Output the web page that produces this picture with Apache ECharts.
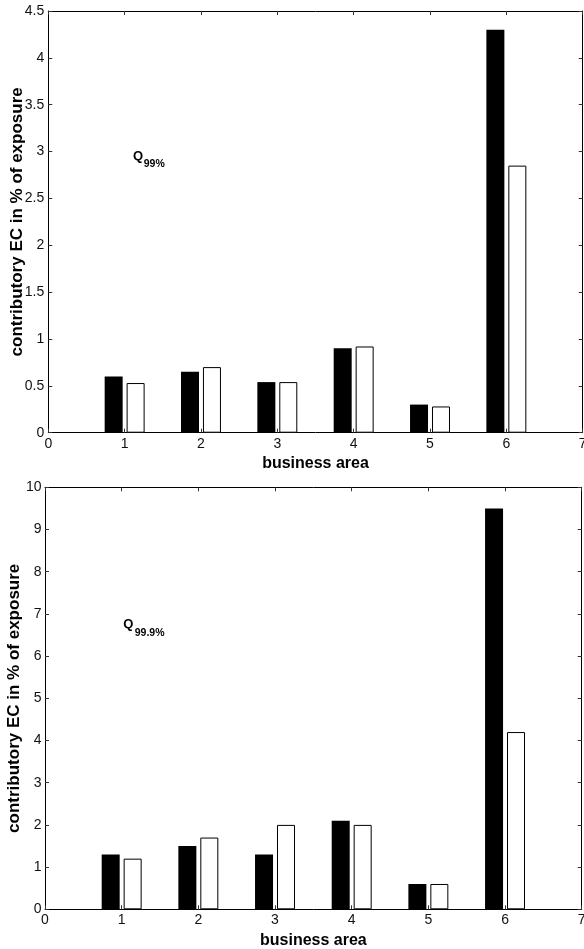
<!DOCTYPE html>
<html>
<head>
<meta charset="utf-8">
<script src="https://cdn.jsdelivr.net/npm/echarts@6/dist/echarts.min.js"></script>
<style>
  html, body { margin: 0; padding: 0; background: #fff; }
  #chart { width: 584px; height: 949px; }
</style>
</head>
<body>
<div id="chart"></div>
<script>
// Business areas on the horizontal axis
const areas = [1, 2, 3, 4, 5, 6];

// Contributory economic capital, % of exposure, 99% quantile
const q99Filled = [0.6, 0.65, 0.54, 0.9, 0.3, 4.3];
const q99Open   = [0.53, 0.7, 0.54, 0.92, 0.28, 2.85];

// Contributory economic capital, % of exposure, 99.9% quantile
const q999Filled = [1.3, 1.5, 1.3, 2.1, 0.6, 9.5];
const q999Open   = [1.2, 1.7, 2.0, 2.0, 0.6, 4.2];

// Axis ranges and tick steps
const xRange = { min: 0, max: 7, step: 1 };
const topY = { min: 0, max: 4.5, step: 0.5 };
const bottomY = { min: 0, max: 10, step: 1 };

const xName = 'business area';
const yName = 'contributory EC in % of exposure';

const FONT = '"Liberation Sans", Arial, Helvetica, sans-serif';
const INK = '#000';

const pairs = (vals) => areas.map((a, i) => [a, vals[i]]);

function baseAxis(extra) {
  return Object.assign({
    type: 'value',
    axisLine: { show: true, onZero: false, lineStyle: { color: INK, width: 1 } },
    axisTick: { show: true, inside: true, length: 4, lineStyle: { color: '#333', width: 1 } },
    splitLine: { show: false },
    axisLabel: { show: false }
  }, extra);
}

function xAxes(grid) {
  return [
    baseAxis({
      gridIndex: grid, position: 'bottom',
      min: xRange.min, max: xRange.max, interval: xRange.step,
      axisLabel: { show: true, color: '#111', fontFamily: FONT, fontSize: 14, margin: 4 },
      name: xName, nameLocation: 'middle', nameGap: 23,
      nameTextStyle: { color: INK, fontFamily: FONT, fontSize: 16, fontWeight: 'bold' }
    }),
    baseAxis({
      gridIndex: grid, position: 'top',
      min: xRange.min, max: xRange.max, interval: xRange.step
    })
  ];
}

function yAxes(grid, r, gap) {
  return [
    baseAxis({
      gridIndex: grid, position: 'left',
      min: r.min, max: r.max, interval: r.step,
      axisLabel: { show: true, color: '#111', fontFamily: FONT, fontSize: 14, margin: gap },
      name: yName, nameLocation: 'middle', nameGap: 22, nameMoveOverlap: false,
      nameTextStyle: { color: INK, fontFamily: FONT, fontSize: 17, fontWeight: 'bold' }
    }),
    baseAxis({
      gridIndex: grid, position: 'right',
      min: r.min, max: r.max, interval: r.step
    })
  ];
}

function barSeries(xi, yi, vals, filled) {
  return {
    type: 'bar',
    xAxisIndex: xi, yAxisIndex: yi,
    data: pairs(vals),
    barWidth: 18,
    barGap: '22%',
    itemStyle: filled
      ? { color: '#000', borderColor: '#000', borderWidth: 0 }
      : { color: '#fff', borderColor: '#000', borderWidth: 1 },
    emphasis: { disabled: true },
    silent: true
  };
}

const chart = echarts.init(document.getElementById('chart'), null, { renderer: 'canvas' });

chart.setOption({
  animation: false,
  backgroundColor: '#fff',
  grid: [
    { left: 48.3, right: 1.3, top: 11, height: 421.7, containLabel: false, outerBoundsMode: 'none' },
    { left: 45, right: 2.3, top: 487.3, height: 422, containLabel: false, outerBoundsMode: 'none' }
  ],
  xAxis: [...xAxes(0), ...xAxes(1)],
  yAxis: [...yAxes(0, topY, 4), ...yAxes(1, bottomY, 3.5)],
  series: [
    barSeries(0, 0, q99Filled, true),
    barSeries(0, 0, q99Open, false),
    barSeries(2, 2, q999Filled, true),
    barSeries(2, 2, q999Open, false)
  ]
});

// Quantile annotations: "Q" with a bold subscript, anchored in data space
function quantileTag(xi, yi, at, sub) {
  const q = chart.convertToPixel({ xAxisIndex: xi, yAxisIndex: yi }, at.q);
  const s = chart.convertToPixel({ xAxisIndex: xi, yAxisIndex: yi }, at.s);
  return [
    { type: 'text', x: q[0], y: q[1], silent: true,
      style: { text: 'Q', font: 'bold 13px ' + FONT, fill: INK, align: 'left', verticalAlign: 'middle' } },
    { type: 'text', x: s[0], y: s[1], silent: true,
      style: { text: sub, font: 'bold 10.5px ' + FONT, fill: INK, align: 'left', verticalAlign: 'middle' } }
  ];
}

chart.setOption({
  graphic: [
    ...quantileTag(0, 0, { q: [1.11, 2.95], s: [1.25, 2.87] }, '99%'),
    ...quantileTag(2, 2, { q: [1.02, 6.75], s: [1.17, 6.55] }, '99.9%')
  ]
});
</script>
</body>
</html>
